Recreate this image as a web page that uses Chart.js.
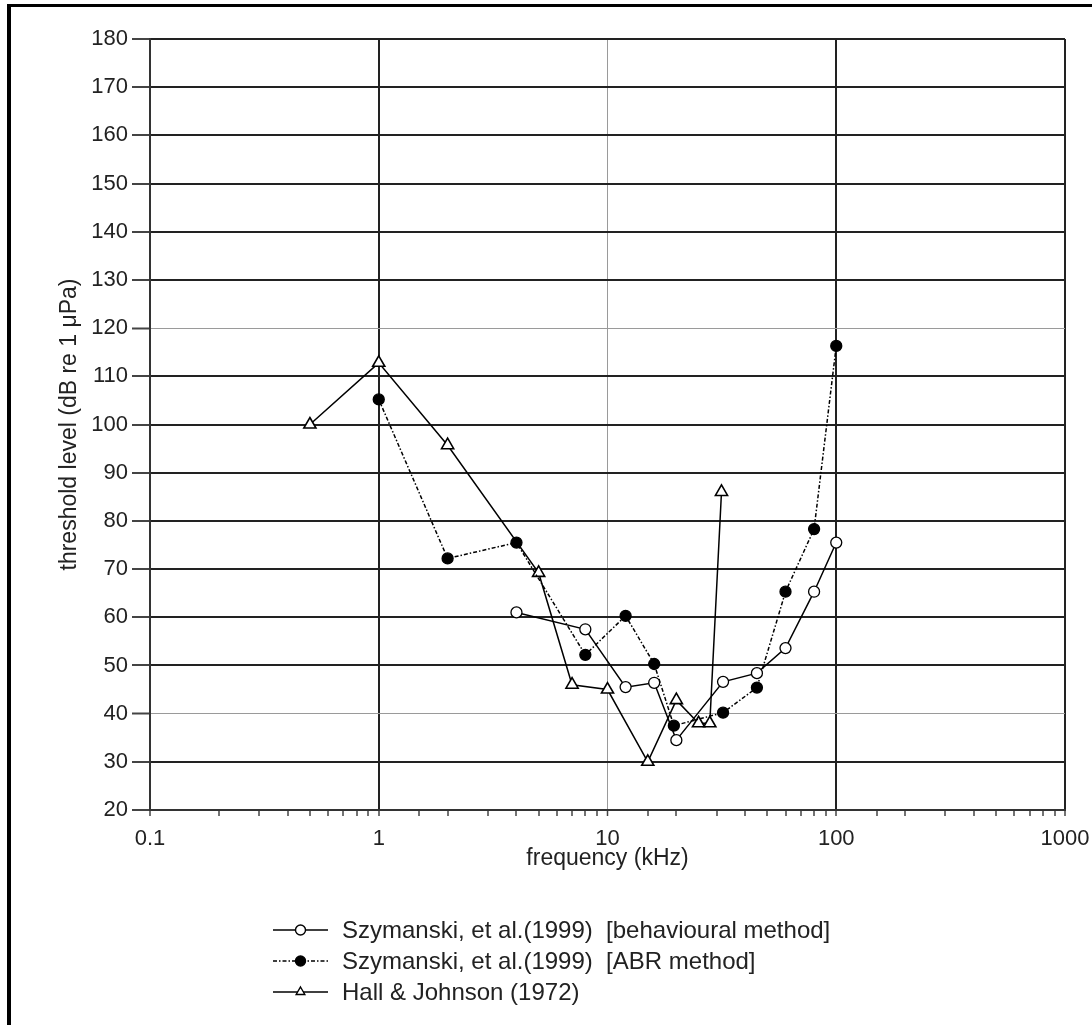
<!DOCTYPE html>
<html>
<head>
<meta charset="utf-8">
<script src="https://cdn.jsdelivr.net/npm/chart.js@4.4.0/dist/chart.umd.min.js"></script>
<style>
    body { margin: 0; background: #fff; }
    #wrap { position: relative; width: 1092px; height: 1025px; }
    #frame {
        position: absolute; left: 7px; top: 4px; right: 0; bottom: 0;
        border-left: 4px solid #000; border-top: 3px solid #000;
        pointer-events: none;
    }
</style>
</head>
<body>
<div id="wrap">
    <canvas id="myChart" width="1092" height="1025"></canvas>
    <div id="frame"></div>
</div>
<script>
// data (frequency in kHz, threshold in dB re 1 uPa)
const behavFreq = [4, 8, 12, 16, 20, 32, 45, 60, 80, 100];
const behavLevel = [61, 57.5, 45.5, 46.4, 34.5, 46.6, 48.4, 53.6, 65.3, 75.5];

const abrFreq = [1, 2, 4, 8, 12, 16, 19.5, 32, 45, 60, 80, 100];
const abrLevel = [105.2, 72.2, 75.5, 52.2, 60.3, 50.3, 37.5, 40.2, 45.4, 65.3, 78.3, 116.3];

const hallFreq = [0.5, 1, 2, 5, 7, 10, 15, 20, 25, 28, 31.5];
const hallLevel = [100, 112.8, 95.7, 69.2, 46, 45, 30, 42.8, 38, 38, 86];

const seriesNames = [
    'Szymanski, et al.(1999)  [behavioural method]',
    'Szymanski, et al.(1999)  [ABR method]',
    'Hall & Johnson (1972)'
];

const xTicks = [0.1, 1, 10, 100, 1000];
const yMin = 20, yMax = 180, yStep = 10;

const toPoints = (xs, ys) => xs.map((x, i) => ({ x: x, y: ys[i] }));

const isDecade = v => {
    const l = Math.log10(v);
    return Math.abs(l - Math.round(l)) < 1e-6;
};

const fontFamily = "'Liberation Sans', Arial, sans-serif";

// legend drawn under the plot, line + marker + text like the original
const sampleLegend = {
    id: 'sampleLegend',
    afterDraw(chart) {
        const ctx = chart.ctx;
        ctx.save();
        chart.data.datasets.forEach((ds, i) => {
            const y = 930 + i * 31;
            ctx.strokeStyle = '#000';
            ctx.lineWidth = 1.4;
            ctx.setLineDash(ds.borderDash || []);
            ctx.beginPath();
            ctx.moveTo(273, y);
            ctx.lineTo(328, y);
            ctx.stroke();
            ctx.setLineDash([]);
            ctx.fillStyle = ds.pointBackgroundColor;
            ctx.strokeStyle = '#000';
            Chart.helpers.drawPoint(ctx, {
                pointStyle: ds.pointStyle,
                radius: 5,
                rotation: 0,
                borderWidth: 1.4
            }, 300.5, y);
            ctx.fillStyle = '#222';
            ctx.font = '24px ' + fontFamily;
            ctx.textBaseline = 'middle';
            ctx.textAlign = 'left';
            ctx.fillText(seriesNames[i], 342, y + 1);
        });
        ctx.restore();
    }
};

const canvas = document.getElementById('myChart');
const myChart = new Chart(canvas, {
    type: 'line',
    data: {
        datasets: [{
            label: seriesNames[0],
            data: toPoints(behavFreq, behavLevel),
            borderColor: '#000',
            borderWidth: 1.5,
            pointStyle: 'circle',
            pointRadius: 5.5,
            pointBackgroundColor: '#fff',
            pointBorderColor: '#000',
            pointBorderWidth: 1.3
        }, {
            label: seriesNames[1],
            data: toPoints(abrFreq, abrLevel),
            borderColor: '#000',
            borderWidth: 1.5,
            borderDash: [4, 2, 1.5, 2],
            pointStyle: 'circle',
            pointRadius: 5.5,
            pointBackgroundColor: '#000',
            pointBorderColor: '#000',
            pointBorderWidth: 1.3
        }, {
            label: seriesNames[2],
            data: toPoints(hallFreq, hallLevel),
            borderColor: '#000',
            borderWidth: 1.5,
            pointStyle: 'triangle',
            pointRadius: 7,
            pointBackgroundColor: '#fff',
            pointBorderColor: '#000',
            pointBorderWidth: 1.6
        }]
    },
    options: {
        responsive: false,
        animation: false,
        layout: { padding: { left: 11, top: 39, right: 27, bottom: 153 } },
        plugins: {
            legend: { display: false },
            tooltip: { enabled: false }
        },
        scales: {
            x: {
                type: 'logarithmic',
                min: xTicks[0],
                max: xTicks[xTicks.length - 1],
                afterFit: s => { s.height = 62; s.paddingLeft = 0; s.paddingRight = 0; },
                border: { display: true, color: '#333', width: 2 },
                grid: {
                    color: c => c.tick && isDecade(c.tick.value)
                        ? (Math.round(c.tick.value) === 10 ? '#9a9a9a' : '#222')
                        : 'rgba(0,0,0,0)',
                    lineWidth: c => c.tick && Math.round(c.tick.value) === 10 ? 1 : 2,
                    tickColor: '#444',
                    tickWidth: 1.5,
                    tickLength: 6
                },
                ticks: {
                    autoSkip: false,
                    maxRotation: 0,
                    padding: 10,
                    color: '#222',
                    font: { family: fontFamily, size: 22 },
                    callback: v => xTicks.includes(Number(v.toPrecision(6))) ? String(Number(v.toPrecision(6))) : ''
                },
                title: {
                    display: true,
                    text: 'frequency (kHz)',
                    color: '#222',
                    font: { family: fontFamily, size: 23 },
                    padding: { top: 0, bottom: 0 }
                }
            },
            y: {
                min: yMin,
                max: yMax,
                afterFit: s => { s.width = 139; },
                border: { display: true, color: '#333', width: 2 },
                grid: {
                    color: c => (c.tick && (c.tick.value === 40 || c.tick.value === 120)) ? '#9a9a9a' : '#222',
                    lineWidth: c => (c.tick && (c.tick.value === 40 || c.tick.value === 120)) ? 1 : 2,
                    tickColor: '#444',
                    tickWidth: 2,
                    tickLength: 18
                },
                ticks: {
                    stepSize: yStep,
                    padding: 4,
                    color: '#222',
                    font: { family: fontFamily, size: 22 }
                },
                title: {
                    display: true,
                    text: 'threshold level (dB re 1 μPa)',
                    color: '#222',
                    font: { family: fontFamily, size: 23 },
                    padding: { top: 45, bottom: 0 }
                }
            }
        }
    },
    plugins: [sampleLegend]
});
</script>
</body>
</html>
